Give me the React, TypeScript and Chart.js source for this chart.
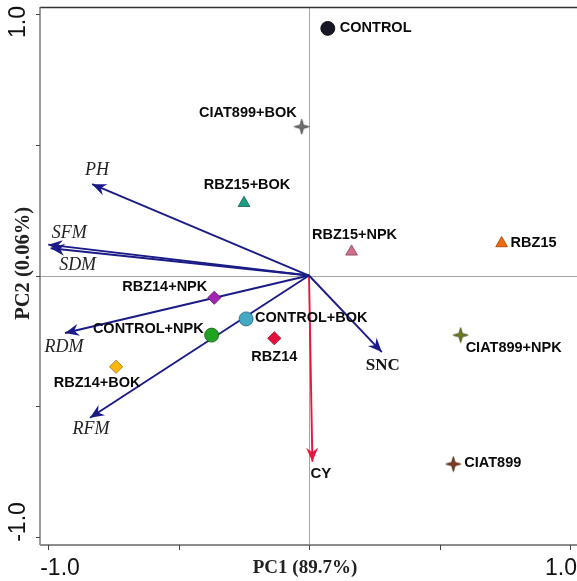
import React, { useEffect, useRef } from "react";
import { Chart, registerables } from "chart.js";

Chart.register(...registerables);

// ---- Data ----
const treatments = [
  "CONTROL",
  "CIAT899+BOK",
  "RBZ15+BOK",
  "RBZ15+NPK",
  "RBZ15",
  "RBZ14+NPK",
  "CONTROL+BOK",
  "CONTROL+NPK",
  "RBZ14",
  "RBZ14+BOK",
  "CIAT899+NPK",
  "CIAT899",
];
const scoresPC1 = [0.072, -0.028, -0.249, 0.163, 0.738, -0.363, -0.241, -0.373, -0.133, -0.739, 0.581, 0.553];
const scoresPC2 = [0.945, 0.569, 0.277, 0.091, 0.123, -0.085, -0.166, -0.228, -0.24, -0.349, -0.228, -0.721];

const variables = ["PH", "SFM", "SDM", "RDM", "RFM", "SNC", "CY"];
const loadingsPC1 = [-0.831, -0.999, -0.99, -0.935, -0.839, 0.279, 0.013];
const loadingsPC2 = [0.349, 0.118, 0.104, -0.22, -0.544, -0.293, -0.712];

const axisTicks = [-1, -0.5, 0, 0.5, 1];
const tickLabels = ["-1.0", "1.0"];
const xTitle = "PC1 (89.7%)";
const yTitle = "PC2 (0.06%)";

// ---- Styles ----
const markerShape = ["circle", "star", "triangle", "triangle", "triangle", "rectRot", "circle", "circle", "rectRot", "rectRot", "star", "star"];
const markerFill = ["#151824", "#6e6e6e", "#1c9f86", "#cf6f8c", "#ee6a0e", "#a222b4", "#45a9c4", "#22a222", "#e3123d", "#fbb80a", "#6e7a20", "#7c3c1c"];
const markerEdge = ["#000000", "#444444", "#11604f", "#8a4458", "#9a4206", "#5e1268", "#22637a", "#136013", "#8a0a24", "#9a6f06", "#3e4610", "#4a220e"];
const markerSize = [7, 7, 6.8, 6.8, 6.8, 6.6, 7, 7, 6.6, 6.6, 7, 7];

// label placement: [align, dx, dy] in px relative to marker
const labelPlace: [CanvasTextAlign, number, number][] = [
  ["left", 12, 0],
  ["right", -5, -14],
  ["center", 3, -18],
  ["center", 3, -17],
  ["left", 9, 0],
  ["right", -7, -11],
  ["left", 9, -1],
  ["right", -8, -6],
  ["center", 0, 19],
  ["center", -19, 16],
  ["left", 5, 13],
  ["left", 11, -1],
];
const varColor = ["#1b1b88", "#1b1b88", "#1b1b88", "#1b1b88", "#1b1b88", "#1b1b88", "#e8163c"];
const varLabelPlace: [CanvasTextAlign, number, number, string][] = [
  ["center", 5, -14, "italic 18px 'Liberation Serif', 'Times New Roman', serif"],
  ["center", 21, -11, "italic 18px 'Liberation Serif', 'Times New Roman', serif"],
  ["center", 27, 17, "italic 18px 'Liberation Serif', 'Times New Roman', serif"],
  ["center", -1, 14, "italic 18px 'Liberation Serif', 'Times New Roman', serif"],
  ["center", 1, 12, "italic 18px 'Liberation Serif', 'Times New Roman', serif"],
  ["center", 1, 13, "bold 17px 'Liberation Serif', 'Times New Roman', serif"],
  ["left", -2, 12, "bold 15px 'Liberation Sans', Arial, sans-serif"],
];

function makeStar(fill: string, stroke: string): HTMLCanvasElement {
  const c = document.createElement("canvas");
  c.width = 17;
  c.height = 17;
  const g = c.getContext("2d")!;
  const cx = 8.5, cy = 8.5, R = 7.6, r = 2.4;
  g.beginPath();
  for (let i = 0; i < 8; i++) {
    const ang = -Math.PI / 2 + (i * Math.PI) / 4;
    const rad = i % 2 === 0 ? R : r;
    g.lineTo(cx + rad * Math.cos(ang), cy + rad * Math.sin(ang));
  }
  g.closePath();
  g.fillStyle = fill;
  g.fill();
  g.strokeStyle = stroke;
  g.lineWidth = 0.8;
  g.stroke();
  return c;
}

const SANS = "'Liberation Sans', Arial, sans-serif";
const SERIF = "'Liberation Serif', 'Times New Roman', serif";

const biplotPlugin = {
  id: "biplot",
  beforeDatasetsDraw(chart: any) {
    const { ctx, chartArea: a, scales } = chart;
    const x = scales.x, y = scales.y;
    ctx.save();
    ctx.strokeStyle = "#a6a6a6";
    ctx.lineWidth = 1;
    const x0 = Math.round(x.getPixelForValue(0)) + 0.5;
    const y0 = Math.round(y.getPixelForValue(0)) + 0.5;
    ctx.beginPath();
    ctx.moveTo(x0, a.top);
    ctx.lineTo(x0, a.bottom);
    ctx.moveTo(a.left, y0);
    ctx.lineTo(a.right, y0);
    ctx.stroke();
    ctx.restore();
  },
  afterDatasetsDraw(chart: any) {
    const { ctx, chartArea: a, scales } = chart;
    const x = scales.x, y = scales.y;
    ctx.save();
    // arrowheads
    for (let i = 0; i < variables.length; i++) {
      const px = x.getPixelForValue(loadingsPC1[i]);
      const py = y.getPixelForValue(loadingsPC2[i]);
      const ox = x.getPixelForValue(0);
      const oy = y.getPixelForValue(0);
      const ang = Math.atan2(py - oy, px - ox);
      const L = 14, W = 6, N = 9.5;
      ctx.save();
      ctx.translate(px, py);
      ctx.rotate(ang);
      ctx.beginPath();
      ctx.moveTo(0, 0);
      ctx.lineTo(-L, -W);
      ctx.lineTo(-N, 0);
      ctx.lineTo(-L, W);
      ctx.closePath();
      ctx.fillStyle = varColor[i];
      ctx.fill();
      ctx.restore();
      // label
      const [al, dx, dy, font] = varLabelPlace[i];
      ctx.font = font;
      ctx.fillStyle = i === 5 || i === 6 ? "#111111" : "#222222";
      ctx.textAlign = al;
      ctx.textBaseline = "middle";
      ctx.fillText(variables[i], px + dx, py + dy);
    }
    // treatment labels
    ctx.font = `bold 14.5px ${SANS}`;
    ctx.fillStyle = "#0a0a0a";
    ctx.textBaseline = "middle";
    for (let i = 0; i < treatments.length; i++) {
      const px = x.getPixelForValue(scoresPC1[i]);
      const py = y.getPixelForValue(scoresPC2[i]);
      const [al, dx, dy] = labelPlace[i];
      ctx.textAlign = al;
      ctx.fillText(treatments[i], px + dx, py + dy);
    }
    // frame
    ctx.lineWidth = 1.3;
    ctx.strokeStyle = "#333333";
    ctx.beginPath();
    ctx.moveTo(a.left, a.top + 0.5);
    ctx.lineTo(a.right, a.top + 0.5);
    ctx.stroke();
    ctx.strokeStyle = "#666666";
    ctx.lineWidth = 1.3;
    ctx.beginPath();
    ctx.moveTo(a.left, a.top);
    ctx.lineTo(a.left, a.bottom);
    ctx.stroke();
    ctx.strokeStyle = "#8c8c8c";
    ctx.lineWidth = 2;
    ctx.beginPath();
    ctx.moveTo(a.left, a.bottom);
    ctx.lineTo(a.right, a.bottom);
    ctx.stroke();
    // ticks
    ctx.strokeStyle = "#444444";
    ctx.lineWidth = 1;
    ctx.beginPath();
    for (const t of axisTicks) {
      const ty = Math.round(y.getPixelForValue(t)) + 0.5;
      ctx.moveTo(a.left - 4, ty);
      ctx.lineTo(a.left, ty);
      const tx = Math.round(x.getPixelForValue(t)) + 0.5;
      ctx.moveTo(tx, a.bottom);
      ctx.lineTo(tx, a.bottom + 5);
    }
    ctx.stroke();
    // tick labels
    ctx.fillStyle = "#111111";
    ctx.font = `23px ${SANS}`;
    ctx.textBaseline = "alphabetic";
    ctx.textAlign = "center";
    ctx.fillText(tickLabels[0], x.getPixelForValue(-1) + 12, 575);
    ctx.fillText(tickLabels[1], x.getPixelForValue(1) - 9, 575);
    ctx.save();
    ctx.translate(25, y.getPixelForValue(1) + 8);
    ctx.rotate(-Math.PI / 2);
    ctx.fillText(tickLabels[1], 0, 0);
    ctx.restore();
    ctx.save();
    ctx.translate(25, y.getPixelForValue(-1) - 15);
    ctx.rotate(-Math.PI / 2);
    ctx.fillText(tickLabels[0], 0, 0);
    ctx.restore();
    // titles
    ctx.font = `bold 19px ${SERIF}`;
    ctx.fillStyle = "#222222";
    ctx.fillText(xTitle, x.getPixelForValue(0) - 4, 573);
    ctx.save();
    ctx.font = `bold 20.5px ${SERIF}`;
    ctx.translate(29, 207);
    ctx.rotate(-Math.PI / 2);
    ctx.textAlign = "right";
    ctx.fillText(yTitle, 0, 0);
    ctx.restore();
    ctx.restore();
  },
};

export default function App() {
  const ref = useRef<HTMLCanvasElement>(null);
  useEffect(() => {
    document.body.style.margin = "0";
    const canvas = ref.current!;
    const styles = markerShape.map((s, i) =>
      s === "star" ? makeStar(markerFill[i], markerEdge[i]) : s
    );
    const pointData = treatments.map((_, i) => ({ x: scoresPC1[i], y: scoresPC2[i] }));
    const arrowSets = variables.map((v, i) => ({
      type: "line" as const,
      label: v,
      data: [
        { x: 0, y: 0 },
        { x: loadingsPC1[i], y: loadingsPC2[i] },
      ],
      borderColor: varColor[i],
      borderWidth: 1.9,
      pointRadius: 0,
      showLine: true,
      fill: false,
      order: 2,
    }));
    const chart = new Chart(canvas, {
      type: "scatter",
      data: {
        datasets: [
          {
            label: "Treatments",
            data: pointData,
            pointStyle: styles as any,
            pointRadius: markerSize,
            backgroundColor: markerFill,
            borderColor: markerEdge,
            borderWidth: 0.8,
            order: 1,
          } as any,
          ...arrowSets,
        ],
      },
      options: {
        responsive: false,
        animation: false,
        layout: { autoPadding: false, padding: { left: 40, top: 7, right: 0, bottom: 36 } },
        plugins: { legend: { display: false }, tooltip: { enabled: false } },
        scales: {
          x: { type: "linear", display: false, min: -1.0307, max: 1.0268 },
          y: { type: "linear", display: false, min: -1.0306, max: 1.0268 },
        },
      },
      plugins: [biplotPlugin],
    });
    return () => chart.destroy();
  }, []);
  return <canvas ref={ref} width={577} height={581} style={{ display: "block" }} />;
}
